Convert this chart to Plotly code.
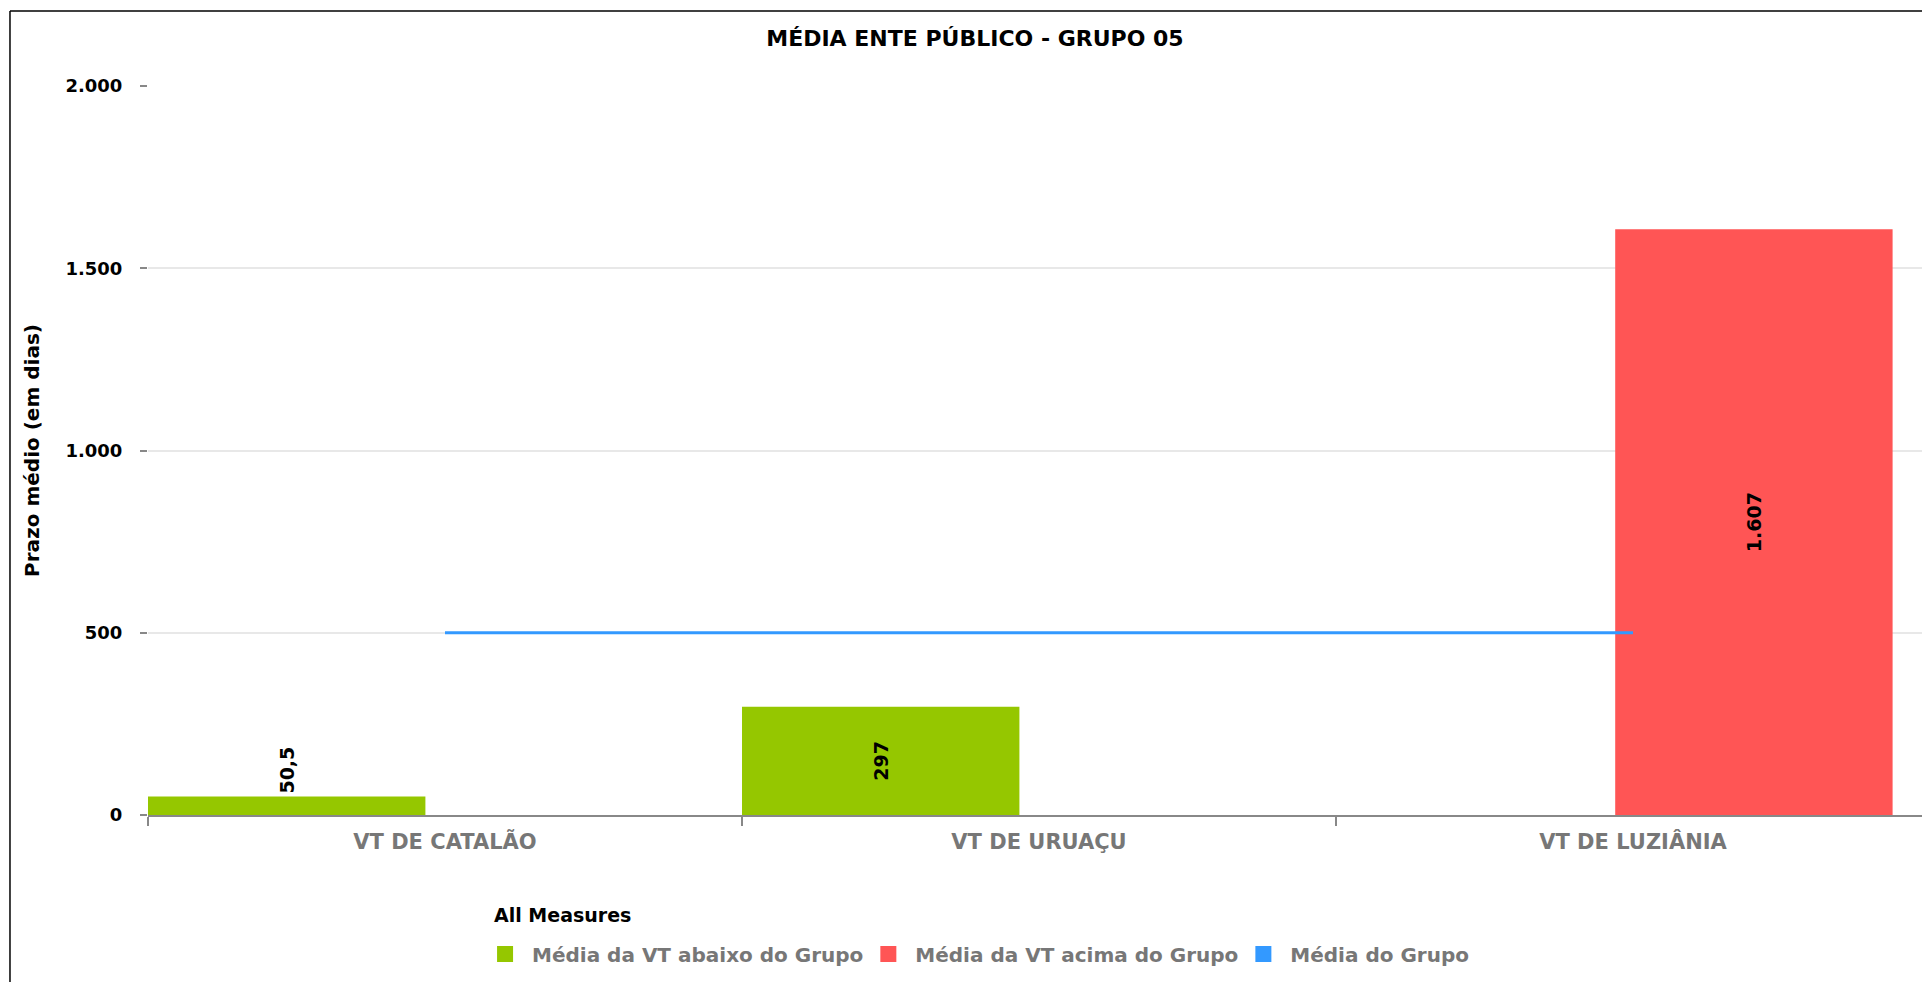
import plotly.graph_objects as go

categories = ["VT DE CATALÃO", "VT DE URUAÇU", "VT DE LUZIÂNIA"]
abaixo = [50.5, 297, None]
acima = [None, None, 1607]
media_grupo = [500, 500, 500]
y_ticks = [0, 500, 1000, 1500, 2000]
series_names = ["Média da VT abaixo do Grupo", "Média da VT acima do Grupo", "Média do Grupo"]

GREEN = "#95C700"
RED = "#FF5555"
BLUE = "#3399FF"
COLORS = [GREEN, RED, BLUE]
FONT = "DejaVu Sans"

fig = go.Figure()

bar_text = dict(family=FONT, size=19, color="#000000", weight="bold")

fig.add_trace(go.Bar(
    x=categories, y=abaixo, name=series_names[0],
    marker=dict(color=GREEN, line=dict(width=0)),
    offset=-0.5, width=0.467,
    texttemplate="%{y:,~g}", textposition="auto", textangle=-90,
    insidetextanchor="middle", constraintext="none",
    textfont=bar_text, insidetextfont=bar_text, outsidetextfont=bar_text,
    cliponaxis=False, showlegend=False,
))
fig.add_trace(go.Bar(
    x=categories, y=acima, name=series_names[1],
    marker=dict(color=RED, line=dict(width=0)),
    offset=-0.03, width=0.467,
    texttemplate="%{y:,~g}", textposition="auto", textangle=-90,
    insidetextanchor="middle", constraintext="none",
    textfont=bar_text, insidetextfont=bar_text, outsidetextfont=bar_text,
    cliponaxis=False, showlegend=False,
))
fig.add_trace(go.Scatter(
    x=categories, y=media_grupo, mode="lines", name=series_names[2],
    line=dict(color=BLUE, width=3), showlegend=False,
))
# legend keys (square swatches)
for name, color in zip(series_names, COLORS):
    fig.add_trace(go.Scatter(
        x=[None], y=[None], mode="markers", name="\u00a0" + name,
        marker=dict(symbol="square", size=16, color=color),
    ))

fig.update_layout(
    width=1914, height=974,
    margin=dict(l=140, r=0, t=78, b=167),
    paper_bgcolor="white", plot_bgcolor="white",
    separators=",.",
    barmode="overlay",
    font=dict(family=FONT, size=18, color="#000000"),
    title=dict(
        text="MÉDIA ENTE PÚBLICO - GRUPO 05",
        x=0.5052, xref="container", xanchor="center",
        y=0.969, yref="container", yanchor="middle",
        font=dict(family=FONT, size=22, color="#000000", weight="bold"),
    ),
    xaxis=dict(
        type="category", range=[-0.5, 2.4865],
        showline=True, linecolor="#888888", linewidth=2,
        ticks="outside", tickson="boundaries", ticklen=9, tickcolor="#888888", tickwidth=1.5,
        showgrid=False,
        tickfont=dict(family=FONT, size=21, color="#777777", weight="bold"),
        ticklabelstandoff=7,
    ),
    yaxis=dict(
        range=[0, 2000], tickvals=y_ticks, tickformat=",d",
        showgrid=True, gridcolor="#E8E8E8", gridwidth=1.5,
        zeroline=False, showline=False,
        ticks="outside", ticklen=7, tickcolor="#888888", tickwidth=1.5,
        tickfont=dict(family=FONT, size=18, color="#000000", weight="bold"),
        ticklabelstandoff=14,
        title=dict(text="Prazo médio (em dias)", standoff=20,
                   font=dict(family=FONT, size=20, color="#000000", weight="bold")),
    ),
    legend=dict(
        orientation="h", x=0.190, xanchor="left", y=-0.1907, yanchor="middle",
        font=dict(family=FONT, size=20, color="#777777", weight="bold"),
        traceorder="normal", itemclick=False, itemsizing="trace",
    ),
    showlegend=True,
)

fig.add_annotation(
    text="All Measures", xref="paper", yref="paper",
    x=0.1939, y=-0.137, xanchor="left", yanchor="middle", showarrow=False,
    font=dict(family=FONT, size=19, color="#000000", weight="bold"),
)

# outer frame of the chart panel (left and top edges; the rest lies outside the view)
frame = dict(color="#000000", width=1.5)
fig.add_shape(type="line", xref="paper", yref="paper",
              x0=-0.0778, x1=-0.0778, y0=-0.4, y1=1.103, line=frame, layer="below")
fig.add_shape(type="line", xref="paper", yref="paper",
              x0=-0.0778, x1=1.05, y0=1.103, y1=1.103, line=frame, layer="below")

fig.write_html("out.html")
